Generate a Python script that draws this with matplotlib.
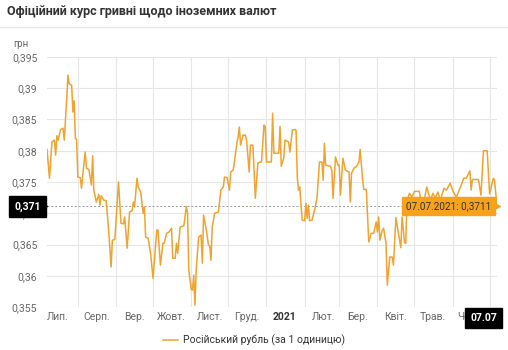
import matplotlib
matplotlib.use("Agg")
import matplotlib.pyplot as plt
import pandas as pd

plt.rcParams['font.family'] = ['Roboto', 'DejaVu Sans']

title = "Офіційний курс гривні щодо іноземних валют"
unit_label = "грн"
series_name = "Російський рубль (за 1 одиницю)"
start_date = "2020-07-07"

# day offsets from start_date and the rate (UAH per 1 RUB)
day_offsets = [0, 2, 4, 6, 7, 8, 9, 11, 13, 14, 16, 17, 18, 20, 21, 22, 23, 24, 25, 27,
               28, 29, 31, 32, 34, 36, 37, 38, 40, 42, 43, 44, 46, 48, 50, 52, 53, 55, 58, 60,
               62, 63, 65, 67, 69, 70, 71, 73, 74, 76, 78, 79, 80, 82, 84, 86, 88, 89, 90, 92,
               94, 95, 97, 99, 101, 102, 104, 105, 106, 108, 111, 113, 114, 115, 117, 118, 119, 120, 121, 123,
               125, 126, 127, 129, 131, 132, 133, 134, 136, 139, 141, 143, 144, 146, 148, 149, 151, 152, 154, 155,
               156, 157, 159, 161, 162, 164, 165, 167, 169, 171, 173, 174, 176, 177, 178, 182, 183, 184, 188, 189,
               190, 192, 193, 196, 197, 199, 201, 202, 203, 204, 205, 207, 209, 210, 211, 212, 213, 215, 217, 219,
               220, 221, 223, 224, 225, 226, 230, 231, 232, 234, 236, 237, 238, 240, 242, 245, 246, 247, 249, 251,
               253, 254, 256, 257, 259, 261, 263, 265, 267, 268, 269, 270, 272, 273, 275, 276, 278, 280, 281, 283,
               285, 287, 288, 290, 291, 292, 293, 294, 296, 298, 302, 304, 306, 308, 311, 313, 315, 317, 319, 322,
               324, 327, 329, 331, 332, 335, 338, 340, 343, 344, 345, 350, 352, 354, 357, 359, 362, 363, 365]
rates = [0.3802, 0.3756, 0.3814, 0.3817, 0.3793, 0.3824, 0.3817, 0.3834, 0.3836, 0.3817,
         0.3884, 0.3921, 0.3907, 0.3905, 0.3862, 0.3880, 0.3820, 0.3818, 0.3758, 0.3757,
         0.3740, 0.3761, 0.3798, 0.3772, 0.3770, 0.3745, 0.3792, 0.3737, 0.3718, 0.3730,
         0.3713, 0.3728, 0.3721, 0.3720, 0.3673, 0.3614, 0.3657, 0.3658, 0.3750, 0.3684,
         0.3683, 0.3694, 0.3644, 0.3702, 0.3704, 0.3718, 0.3710, 0.3756, 0.3742, 0.3734,
         0.3700, 0.3710, 0.3662, 0.3660, 0.3636, 0.3596, 0.3646, 0.3673, 0.3673, 0.3617,
         0.3652, 0.3652, 0.3668, 0.3670, 0.3676, 0.3628, 0.3628, 0.3652, 0.3636, 0.3678,
         0.3680, 0.3711, 0.3700, 0.3609, 0.3578, 0.3577, 0.3601, 0.3553, 0.3609, 0.3662,
         0.3665, 0.3620, 0.3697, 0.3676, 0.3649, 0.3648, 0.3625, 0.3678, 0.3700, 0.3702,
         0.3737, 0.3742, 0.3758, 0.3757, 0.3737, 0.3766, 0.3769, 0.3782, 0.3812, 0.3822,
         0.3838, 0.3809, 0.3825, 0.3825, 0.3814, 0.3766, 0.3809, 0.3809, 0.3724, 0.3780,
         0.3782, 0.3782, 0.3841, 0.3839, 0.3782, 0.3782, 0.3860, 0.3796, 0.3796, 0.3839,
         0.3775, 0.3788, 0.3817, 0.3814, 0.3798, 0.3833, 0.3834, 0.3833, 0.3758, 0.3737,
         0.3742, 0.3689, 0.3688, 0.3716, 0.3692, 0.3713, 0.3688, 0.3689, 0.3705, 0.3724,
         0.3753, 0.3782, 0.3782, 0.3753, 0.3812, 0.3777, 0.3775, 0.3769, 0.3724, 0.3790,
         0.3777, 0.3777, 0.3729, 0.3788, 0.3769, 0.3766, 0.3718, 0.3764, 0.3772, 0.3775,
         0.3782, 0.3802, 0.3753, 0.3738, 0.3738, 0.3654, 0.3668, 0.3668, 0.3686, 0.3670,
         0.3694, 0.3657, 0.3673, 0.3676, 0.3652, 0.3585, 0.3630, 0.3630, 0.3617, 0.3693,
         0.3668, 0.3645, 0.3694, 0.3653, 0.3652, 0.3723, 0.3726, 0.3732, 0.3726, 0.3735,
         0.3735, 0.3710, 0.3721, 0.3742, 0.3721, 0.3732, 0.3724, 0.3734, 0.3721, 0.3740,
         0.3737, 0.3748, 0.3737, 0.3729, 0.3726, 0.3740, 0.3756, 0.3756, 0.3768, 0.3737,
         0.3754, 0.3754, 0.3729, 0.3800, 0.3800, 0.3731, 0.3756, 0.3753, 0.3711]

y_ticks = [0.355, 0.36, 0.365, 0.37, 0.375, 0.38, 0.385, 0.39, 0.395]
month_labels = ["Лип.", "Серп.", "Вер.", "Жовт.", "Лист.", "Груд.", "2021",
                "Лют.", "Бер.", "Квіт.", "Трав.", "Черв."]
month_starts = pd.date_range("2020-07-01", periods=13, freq="MS")

dates = pd.Timestamp(start_date) + pd.to_timedelta(day_offsets, unit="D")
last_date = dates[-1]
last_rate = rates[-1]

line_color = "#F0A32E"
grid_color = "#E6E6E6"
label_color = "#666666"

fig = plt.figure(figsize=(5.08, 3.5), dpi=100)
fig.patch.set_facecolor("white")

ax = fig.add_axes([47 / 508, 43 / 350, 450 / 508, 250 / 350])
ax.plot(dates, rates, color=line_color, lw=1.1, label=series_name, zorder=3)

ax.set_xlim(pd.Timestamp(start_date), last_date)
ax.set_ylim(y_ticks[0], y_ticks[-1])

ax.set_yticks(y_ticks)
ax.set_yticklabels([f"{v:g}".replace(".", ",") for v in y_ticks])
ax.tick_params(axis="y", length=0, pad=7, labelsize=7.5, labelcolor=label_color)

# gridlines at month starts, labels in the middle of months
ax.set_xticks(month_starts[1:])
ax.set_xticklabels([])
ax.tick_params(axis="x", length=0)
mids = [ms + pd.Timedelta(days=15) for ms in month_starts[:-1]]
for m, lab in zip(mids, month_labels):
    ax.text(m, -0.04, lab, transform=ax.get_xaxis_transform(), ha="center", va="center",
            fontsize=7.5, color="#333333" if lab == "2021" else label_color,
            fontweight="bold" if lab == "2021" else "normal")

ax.grid(True, color=grid_color, lw=0.8, zorder=0)
for s in ax.spines.values():
    s.set_visible(False)

# crosshair lines
ax.axhline(last_rate, color="#999999", lw=0.7, ls=(0, (2, 2)), zorder=2)
ax.axvline(last_date, color="#999999", lw=0.7, ls=(0, (2, 2)), zorder=2)

# y crosshair label (black box at left)
ax.text(-0.014, last_rate, f"{last_rate:.3f}".replace(".", ","), transform=ax.get_yaxis_transform(),
        ha="right", va="center", color="white", fontsize=7.5, fontweight="bold", zorder=6,
        bbox=dict(boxstyle="square,pad=0.5", fc="black", ec="black"), clip_on=False)
ax.plot([-0.006], [last_rate], marker=">", ms=5, color="black", transform=ax.get_yaxis_transform(),
        clip_on=False, zorder=6)

# x crosshair label (black box at bottom right)
ax.text(last_date, -0.045, last_date.strftime("%d.%m"), transform=ax.get_xaxis_transform(),
        ha="right", va="center", color="white", fontsize=7.5, fontweight="bold", zorder=6,
        bbox=dict(boxstyle="square,pad=0.5", fc="black", ec="black"), clip_on=False)

# tooltip
tip_text = last_date.strftime("%d.%m.%Y") + ": " + f"{last_rate:.4f}".replace(".", ",")
ax.annotate(tip_text, xy=(last_date, last_rate), xytext=(-4, 0), textcoords="offset points",
            ha="right", va="center", fontsize=7.2, color="#333333", zorder=7,
            bbox=dict(boxstyle="square,pad=0.4", fc="#F7A21B", ec="#F7A21B"))
ax.plot([last_date], [last_rate], marker=">", ms=5, color="#F7A21B", zorder=7, clip_on=False)

# title, unit, separator
fig.text(7 / 508, 1 - 12 / 350, title, ha="left", va="center", fontsize=9, fontweight="bold",
         color="#333333")
fig.add_artist(plt.Line2D([0, 1], [1 - 27 / 350, 1 - 27 / 350], color="#E6E6E6", lw=1))
fig.text(13 / 508, 1 - 44 / 350, unit_label, ha="left", va="center", fontsize=7, color=label_color)

leg = ax.legend(loc="center", bbox_to_anchor=(0.5, 10 / 350), bbox_transform=fig.transFigure,
                frameon=False, fontsize=7.5, handlelength=1.4, handletextpad=0.5)
for t in leg.get_texts():
    t.set_color("#333333")

fig.savefig("out.png", dpi=100, facecolor="white")
